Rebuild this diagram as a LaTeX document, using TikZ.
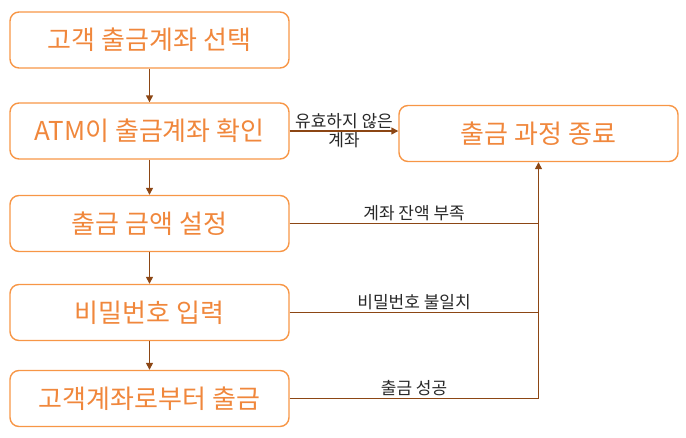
\documentclass[tikz,border=0pt]{standalone}
\usepackage{fontspec}
\newfontfamily\kr{Noto Sans CJK KR}
\usetikzlibrary{arrows.meta,calc}
\definecolor{boxline}{RGB}{247,150,70}
\definecolor{boxtext}{RGB}{240,135,60}
\definecolor{arrowc}{RGB}{140,70,20}
\definecolor{labtext}{RGB}{40,40,40}
\tikzset{
  stepbox/.style={draw=boxline, line width=1.4pt, rounded corners=9pt,
    minimum width=279pt, minimum height=56pt, inner sep=0pt,
    font=\kr\fontsize{26}{30}\selectfont, text=boxtext},
  conn/.style={draw=arrowc, line width=1.4pt},
  arr/.style={conn, -{Triangle[width=7pt,length=7pt]}},
  lab/.style={font=\kr\fontsize{17}{19}\selectfont, text=labtext, inner sep=1pt}
}
\begin{document}
\begin{tikzpicture}[x=1pt,y=-1pt]
\useasboundingbox (0,0) rectangle (686,437);
\node[stepbox] (b1) at (149.5,40) {고객 출금계좌 선택};
\node[stepbox] (b2) at (149.5,131) {ATM이 출금계좌 확인};
\node[stepbox] (b3) at (149.5,223.5) {출금 금액 설정};
\node[stepbox] (b4) at (149.5,312.5) {비밀번호 입력};
\node[stepbox] (b5) at (149.5,398.5) {고객계좌로부터 출금};
\node[stepbox] (end) at (538.5,133.5) {출금 과정 종료};
\coordinate (j) at (end.south |- b5.east);
\draw[arr] (b1) -- (b2);
\draw[arr] (b2) -- (b3);
\draw[arr] (b3) -- (b4);
\draw[arr] (b4) -- (b5);
\draw[arr] (b2.east) -- (b2.east -| end.west)
  node[lab, midway, above=0pt] {유효하지 않은}
  node[lab, midway, below=0pt] {계좌};
\draw[conn] (b3.east) -- (b3.east -| j) node[lab, midway, above=1pt] {계좌 잔액 부족};
\draw[conn] (b4.east) -- (b4.east -| j) node[lab, midway, above=1pt] {비밀번호 불일치};
\draw[conn] (b5.east) -- (j) node[lab, midway, above=1pt] {출금 성공};
\draw[arr] (j) -- (end.south);
\end{tikzpicture}
\end{document}
